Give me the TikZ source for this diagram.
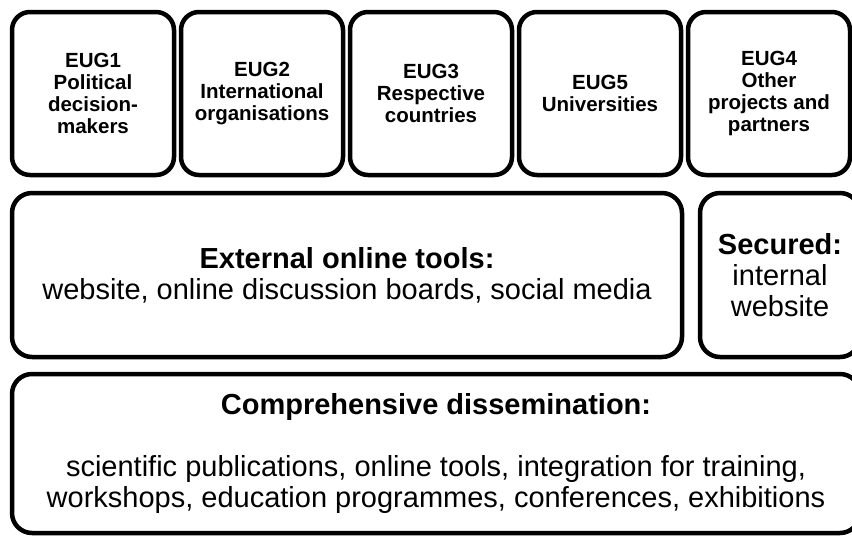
\documentclass[tikz,border=0pt]{standalone}
\usepackage{fontspec}
\setmainfont{Liberation Sans}
\usetikzlibrary{positioning}
\tikzset{
  grpbox/.style={draw, line width=4.5pt, rounded corners=18pt, align=center,
    inner sep=0pt, outer sep=0pt, minimum width=162pt, minimum height=163pt,
    font=\fontsize{20.5}{22}\selectfont\bfseries},
  toolbox/.style={draw, line width=4.5pt, rounded corners=20pt, align=center,
    inner sep=0pt, outer sep=0pt, font=\fontsize{29}{31}\selectfont}
}
\begin{document}
\begin{tikzpicture}[node distance=7pt]
  \useasboundingbox (0,0) rectangle (852pt,-536pt);

  % End user groups
  \node[grpbox, anchor=north west] (eug1) at (12pt,-12pt) {EUG1\\Political\\decision-\\makers};
  \node[grpbox, right=of eug1] (eug2) {EUG2\\International\\organisations};
  \node[grpbox, right=of eug2] (eug3) {EUG3\\Respective\\countries};
  \node[grpbox, right=of eug3] (eug5) {EUG5\\Universities};
  \node[grpbox, right=of eug5] (eug4) {EUG4\\Other\\projects and\\partners};

  % Online tools, open and secured
  \node[toolbox, minimum width=670pt, minimum height=164pt,
    below right=18pt and 0pt of eug1.south west] (ext)
    {\textbf{External online tools:}\\website, online discussion boards, social media};
  \node[toolbox, minimum width=160pt, minimum height=164pt, right=18pt of ext] (sec)
    {\textbf{Secured:}\\internal\\website};

  % Dissemination
  \node[toolbox, minimum width=848pt, minimum height=159pt,
    below right=17pt and 0pt of ext.south west] (diss)
    {\textbf{Comprehensive dissemination:}\\[31pt]
     scientific publications, online tools, integration for training,\\
     workshops, education programmes, conferences, exhibitions};
\end{tikzpicture}
\end{document}
